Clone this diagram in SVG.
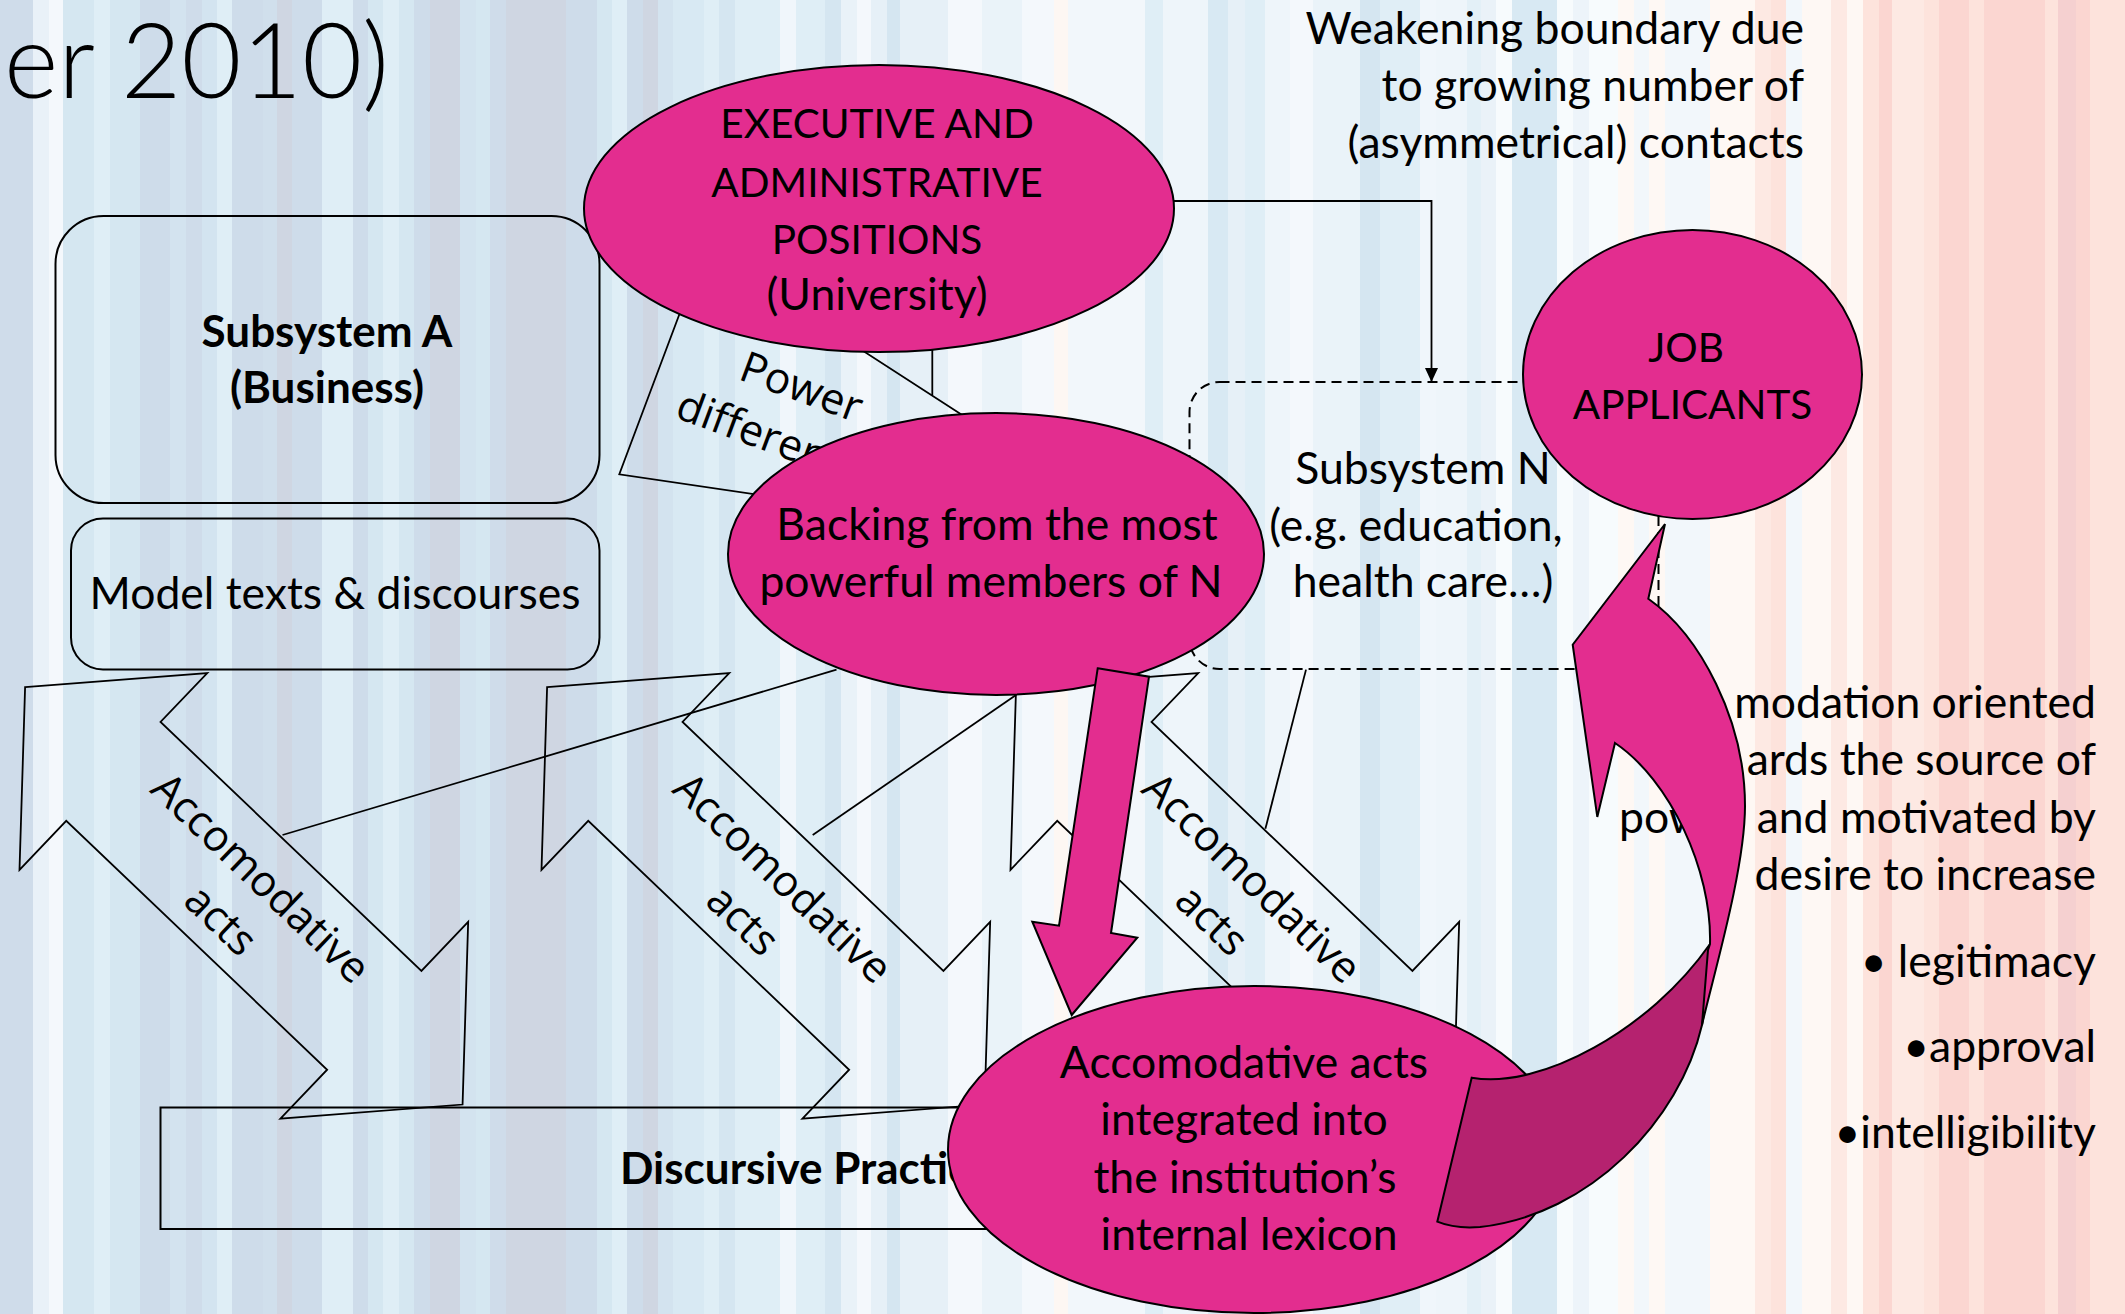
<svg xmlns="http://www.w3.org/2000/svg" width="2125" height="1314" viewBox="0 0 2125 1314">
  <style>
    .t { font-family: Lato, "Liberation Sans", sans-serif; font-size: 44.5px; fill: #000; }
    .cap { font-size: 40.5px; }
    .b { font-weight: bold; font-size: 44px; }
    .r { font-family: "Open Sans", "DejaVu Sans", sans-serif; font-size: 43px; fill: #000; }
    .mid { text-anchor: middle; }
    .end { text-anchor: end; }
    .pink { fill: #e32d8f; stroke: #000; stroke-width: 2; }
    .dark { fill: #b5226f; stroke: #000; stroke-width: 2; }
    .box { fill: none; stroke: #000; stroke-width: 2; }
    .ln { fill: none; stroke: #000; stroke-width: 1.8; }
    .dash { fill: none; stroke: #000; stroke-width: 2; stroke-dasharray: 10 6; }
  </style>
  <defs>
    <marker id="ah" viewBox="0 0 14 14" refX="14" refY="7" markerWidth="14" markerHeight="14" markerUnits="userSpaceOnUse" orient="auto">
      <path d="M0,0.5 L14,7 L0,13.5 Z" fill="#000"/>
    </marker>
    <!-- double-headed block arrow, drawn along +x from its left apex -->
    <polygon id="dbl" points="0,0 122,-136 122,-68.3 482.6,-68.3 482.6,-136 604.6,0 482.6,136 482.6,68.3 122,68.3 122,136" fill="none" stroke="#000" stroke-width="1.8"/>
  </defs>

  <!-- striped backdrop -->
  <g id="stripes" shape-rendering="crispEdges">
    <rect x="0" width="33" height="1314" fill="#cfdcea"/>
    <rect x="33" width="16" height="1314" fill="#e9f1f8"/>
    <rect x="49" width="14" height="1314" fill="#f4f8fc"/>
    <rect x="63" width="31" height="1314" fill="#d5e7f1"/>
    <rect x="94" width="16" height="1314" fill="#dfeef6"/>
    <rect x="110" width="30" height="1314" fill="#d5e7f1"/>
    <rect x="140" width="30" height="1314" fill="#cedcea"/>
    <rect x="170" width="16" height="1314" fill="#d3e3ef"/>
    <rect x="186" width="16" height="1314" fill="#cfdcea"/>
    <rect x="202" width="15" height="1314" fill="#d3e4f0"/>
    <rect x="217" width="15" height="1314" fill="#dfeef6"/>
    <rect x="232" width="31" height="1314" fill="#cedcea"/>
    <rect x="263" width="14" height="1314" fill="#d0dfec"/>
    <rect x="277" width="15" height="1314" fill="#cfd6e2"/>
    <rect x="292" width="30" height="1314" fill="#cedcea"/>
    <rect x="322" width="31" height="1314" fill="#dfeef6"/>
    <rect x="353" width="15" height="1314" fill="#cedcea"/>
    <rect x="368" width="15" height="1314" fill="#d5e7f1"/>
    <rect x="383" width="16" height="1314" fill="#dfeef6"/>
    <rect x="399" width="15" height="1314" fill="#d5e7f1"/>
    <rect x="414" width="16" height="1314" fill="#cedcea"/>
    <rect x="430" width="30" height="1314" fill="#cfd6e2"/>
    <rect x="460" width="16" height="1314" fill="#d3e3ef"/>
    <rect x="476" width="14" height="1314" fill="#d5e7f1"/>
    <rect x="490" width="16" height="1314" fill="#cfdcea"/>
    <rect x="506" width="60" height="1314" fill="#cfd6e2"/>
    <rect x="566" width="31" height="1314" fill="#cedcea"/>
    <rect x="597" width="15" height="1314" fill="#d5e7f1"/>
    <rect x="612" width="15" height="1314" fill="#dfeef6"/>
    <rect x="627" width="16" height="1314" fill="#cedcea"/>
    <rect x="643" width="15" height="1314" fill="#cfd6e2"/>
    <rect x="658" width="15" height="1314" fill="#d3e3ef"/>
    <rect x="673" width="31" height="1314" fill="#d8e9f3"/>
    <rect x="704" width="15" height="1314" fill="#dfeef6"/>
    <rect x="719" width="16" height="1314" fill="#d5e6f1"/>
    <rect x="735" width="45" height="1314" fill="#dfeef6"/>
    <rect x="780" width="16" height="1314" fill="#f0f6fb"/>
    <rect x="796" width="29" height="1314" fill="#dfeef6"/>
    <rect x="825" width="16" height="1314" fill="#d5e6f1"/>
    <rect x="841" width="16" height="1314" fill="#e9f2f8"/>
    <rect x="857" width="14" height="1314" fill="#f4f8fc"/>
    <rect x="871" width="16" height="1314" fill="#e6f0f7"/>
    <rect x="887" width="13" height="1314" fill="#d5e6f1"/>
    <rect x="900" width="48" height="1314" fill="#e6f0f7"/>
    <rect x="948" width="34" height="1314" fill="#f4f8fc"/>
    <rect x="982" width="40" height="1314" fill="#eaf3f9"/>
    <rect x="1022" width="32" height="1314" fill="#f4f8fc"/>
    <rect x="1054" width="14" height="1314" fill="#fdf7f3"/>
    <rect x="1068" width="77" height="1314" fill="#f2f7fb"/>
    <rect x="1145" width="18" height="1314" fill="#dfeef6"/>
    <rect x="1163" width="45" height="1314" fill="#eef5fa"/>
    <rect x="1208" width="20" height="1314" fill="#d8e9f3"/>
    <rect x="1228" width="17" height="1314" fill="#e6f0f7"/>
    <rect x="1245" width="20" height="1314" fill="#dfeef6"/>
    <rect x="1265" width="25" height="1314" fill="#eef5fa"/>
    <rect x="1290" width="23" height="1314" fill="#f4f8fc"/>
    <rect x="1313" width="47" height="1314" fill="#eaf3f9"/>
    <rect x="1360" width="20" height="1314" fill="#d5e6f1"/>
    <rect x="1380" width="40" height="1314" fill="#e0eef6"/>
    <rect x="1420" width="16" height="1314" fill="#f0f6fb"/>
    <rect x="1436" width="31" height="1314" fill="#eef5fa"/>
    <rect x="1467" width="14" height="1314" fill="#e3f0f7"/>
    <rect x="1481" width="15" height="1314" fill="#eaf2f8"/>
    <rect x="1496" width="16" height="1314" fill="#f7fbfd"/>
    <rect x="1512" width="45" height="1314" fill="#d8e9f3"/>
    <rect x="1557" width="16" height="1314" fill="#f7fbfd"/>
    <rect x="1573" width="16" height="1314" fill="#edf4fa"/>
    <rect x="1589" width="29" height="1314" fill="#f7fbfd"/>
    <rect x="1618" width="16" height="1314" fill="#fef8f4"/>
    <rect x="1634" width="15" height="1314" fill="#f2f7fb"/>
    <rect x="1649" width="16" height="1314" fill="#fef8f4"/>
    <rect x="1665" width="45" height="1314" fill="#f2f7fb"/>
    <rect x="1710" width="45" height="1314" fill="#fef8f4"/>
    <rect x="1755" width="16" height="1314" fill="#fde9e3"/>
    <rect x="1771" width="15" height="1314" fill="#fde3dc"/>
    <rect x="1786" width="16" height="1314" fill="#f2f7fb"/>
    <rect x="1802" width="29" height="1314" fill="#fef8f4"/>
    <rect x="1831" width="16" height="1314" fill="#fde9e3"/>
    <rect x="1847" width="16" height="1314" fill="#fef8f4"/>
    <rect x="1863" width="16" height="1314" fill="#fde3dc"/>
    <rect x="1879" width="13" height="1314" fill="#fbd6d1"/>
    <rect x="1892" width="32" height="1314" fill="#fde9e3"/>
    <rect x="1924" width="15" height="1314" fill="#fde3dc"/>
    <rect x="1939" width="30" height="1314" fill="#fbd6d1"/>
    <rect x="1969" width="15" height="1314" fill="#fde3dc"/>
    <rect x="1984" width="61" height="1314" fill="#fbd6d1"/>
    <rect x="2045" width="13" height="1314" fill="#fde3dc"/>
    <rect x="2058" width="18" height="1314" fill="#f5d0d0"/>
    <rect x="2076" width="14" height="1314" fill="#fbd6d1"/>
    <rect x="2090" width="35" height="1314" fill="#fde3dc"/>
  </g>

  <!-- heading fragment -->
  <text id="title" class="t" x="4" y="98" style="font-size:104px;font-weight:300">er 2010)</text>

  <!-- annotation texts -->
  <g id="note-boundary">
    <text class="t end" x="1804" y="44">Weakening boundary due</text>
    <text class="t end" x="1804" y="101">to growing number of</text>
    <text class="t end" x="1804" y="158">(asymmetrical) contacts</text>
  </g>
  <g id="note-accommodation">
    <text class="t end" x="2096" y="718">modation oriented</text>
    <text class="t end" x="2096" y="775">ards the source of</text>
    <text class="t" x="1619" y="833">pow</text>
    <text class="t end" x="2096" y="833">and motivated by</text>
    <text class="t end" x="2096" y="890">desire to increase</text>
    <text class="t end" x="2096" y="977">• legitimacy</text>
    <text class="t end" x="2096" y="1062">•approval</text>
    <text class="t end" x="2096" y="1148">•intelligibility</text>
  </g>

  <g id="subsystem-a">
    <rect class="box" x="55.5" y="216" width="544" height="287" rx="48"/>
    <text class="t b mid" x="327" y="347">Subsystem A</text>
    <text class="t b mid" x="327" y="403">(Business)</text>
  </g>

  <g id="model-texts">
    <rect class="box" x="71" y="518.5" width="528.5" height="151" rx="32"/>
    <text class="t mid" x="335" y="609">Model texts &amp; discourses</text>
  </g>

  <g id="power-differential">
    <polygon class="ln" points="690,286 619.3,474.3 800,501 990,433 820,323"/>
    <text class="r mid" transform="translate(801.7,386.7) rotate(20.4)"><tspan x="0" y="15">Power</tspan><tspan x="0" y="73">differential</tspan></text>
  </g>

  <g id="subsystem-n">
    <rect class="dash" x="1189.5" y="382" width="469" height="287" rx="30"/>
    <text class="t mid" x="1423" y="484">Subsystem N</text>
    <text class="t mid" x="1416" y="540.5">(e.g. education,</text>
    <text class="t mid" x="1423" y="597">health care…)</text>
  </g>

  <!-- connectors -->
  <g id="connectors">
    <line class="ln" x1="836.5" y1="669.6" x2="282.5" y2="835"/>
    <line class="ln" x1="1016" y1="695" x2="812.7" y2="835.1"/>
    <line class="ln" x1="1306" y1="669.6" x2="1265.4" y2="828.8"/>
    <line class="ln" x1="932.3" y1="349.6" x2="932.3" y2="395"/>
    <path class="ln" d="M1174,201 H1431.5 V382" marker-end="url(#ah)"/>
  </g>

  <g id="accommodative-1" transform="translate(25.1,687.2) rotate(43.65)">
    <use href="#dbl"/>
    <text class="r mid" transform="translate(302.3,0)"><tspan x="0" y="-10">Accomodative</tspan><tspan x="0" y="48">acts</tspan></text>
  </g>
  <g id="accommodative-2" transform="translate(547.1,687.2) rotate(43.65)">
    <use href="#dbl"/>
    <text class="r mid" transform="translate(302.3,0)"><tspan x="0" y="-10">Accomodative</tspan><tspan x="0" y="48">acts</tspan></text>
  </g>
  <g id="accommodative-3" transform="translate(1016.1,687.2) rotate(43.65)">
    <use href="#dbl"/>
    <text class="r mid" transform="translate(302.3,0)"><tspan x="0" y="-10">Accomodative</tspan><tspan x="0" y="48">acts</tspan></text>
  </g>

  <g id="discursive-practice">
    <rect class="box" x="160.5" y="1107.5" width="1305" height="121.5"/>
    <text class="t b" x="620" y="1184">Discursive Practices</text>
  </g>

  <g id="executive">
    <ellipse class="pink" cx="879" cy="208.5" rx="295" ry="143.5"/>
    <text class="t cap mid" x="877" y="138">EXECUTIVE AND</text>
    <text class="t cap mid" x="877" y="197">ADMINISTRATIVE</text>
    <text class="t cap mid" x="877" y="253.5">POSITIONS</text>
    <text class="t mid" x="877" y="310">(University)</text>
  </g>

  <g id="backing">
    <ellipse class="pink" cx="996" cy="554" rx="268" ry="141"/>
    <text class="t mid" x="997" y="540">Backing from the most</text>
    <text class="t mid" x="991" y="597">powerful members of N</text>
  </g>

  <g id="job-applicants">
    <ellipse class="pink" cx="1692.5" cy="374.5" rx="169.5" ry="144.5"/>
    <text class="t cap mid" x="1686" y="362">JOB</text>
    <text class="t cap mid" x="1692.5" y="419">APPLICANTS</text>
  </g>

  <!-- block arrow from the backing node down to the lexicon node -->
  <polygon id="push-arrow" class="pink" points="1097.7,668.3 1149,676.7 1111,933 1137.3,937.7 1071.7,1015 1032.3,921.7 1059,925.7"/>

  <g id="lexicon">
    <ellipse class="pink" cx="1254" cy="1149.5" rx="306" ry="163.5"/>
    <text class="t mid" x="1244" y="1078">Accomodative acts</text>
    <text class="t mid" x="1244" y="1135">integrated into</text>
    <text class="t mid" x="1245" y="1193">the institution’s</text>
    <text class="t mid" x="1249" y="1250">internal lexicon</text>
  </g>

  <!-- curved arrow up to the job applicants -->
  <g id="return-arrow">
    <path class="dark" d="M1471.7,1077.7 C1540,1090 1650,1030 1710,944 L1716,944 L1702,1025 C1680,1120 1590,1215 1480,1227 Q1455,1229 1437.3,1221.7 Z"/>
    <path class="pink" d="M1665,524 L1648.3,598.7 C1700,635 1745,720 1745,806 C1745,870 1712,980 1702,1025 L1708,950 L1710,944 C1712,870 1670,780 1615,743 L1597.3,816.9 L1572.7,644.7 Z"/>
  </g>
</svg>
